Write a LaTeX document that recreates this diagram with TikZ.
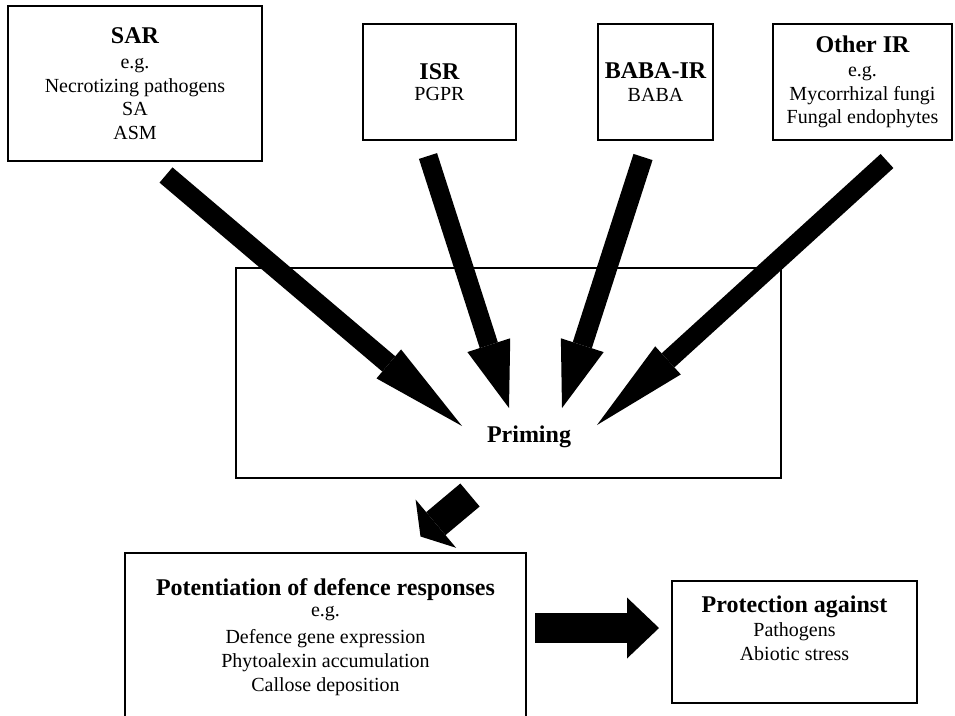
\documentclass[tikz,border=0pt]{standalone}
\usepackage{fontspec}
\setmainfont{Liberation Serif}
\usetikzlibrary{arrows.meta,positioning}
\newcommand{\hd}[1]{{\fontsize{24}{26}\selectfont\bfseries #1}}

\begin{document}
\begin{tikzpicture}[x=1pt,y=-1pt,
    box/.style={draw,line width=1.5pt,inner sep=0pt,align=center,
      font=\fontsize{20}{23.5}\selectfont},
    lbl/.style={inner sep=0pt,align=center,font=\fontsize{20}{24}\selectfont},
    fat/.style n args={3}{line width=#1,
      -{Triangle[width=#2,length=#3,line width=0pt 0 0]}},
  ]
  \useasboundingbox (0,0) rectangle (955,715);
  \clip (0,0) rectangle (955,715);

  % inducers
  \node[box,minimum width=254pt,minimum height=155pt] (sar) at (135,83.5)
    {\hd{SAR}\\[1.5pt]e.g.\\Necrotizing pathogens\\SA\\ASM};
  \node[box,minimum width=153pt,minimum height=116pt] (isr) at (439.5,82)
    {\hd{ISR}\\[-2.5pt]PGPR};
  \node[box,minimum width=115pt,minimum height=116pt] (baba) at (655.5,82)
    {\hd{BABA-IR}\\[-1pt]BABA};
  \node[box,minimum width=179pt,minimum height=116pt] (other) at (862.5,82)
    {\hd{Other IR}\\[1pt]e.g.\\Mycorrhizal fungi\\Fungal endophytes};

  % priming
  \node[box,minimum width=545pt,minimum height=210pt] (prim) at (508.5,373) {};
  \node[lbl,anchor=base] (primtxt) at (529,442.7) {\hd{Priming}};

  % outcome
  \node[box,minimum width=401pt,minimum height=168pt,
    font=\fontsize{20}{24}\selectfont] (pot) at (325.5,637)
    {\hd{Potentiation of defence responses}\\[-3.5pt]e.g.\\[3pt]Defence gene expression\\Phytoalexin accumulation\\Callose deposition};
  \node[box,minimum width=245pt,minimum height=122pt] (prot) at (794.5,642) {};
  \node[lbl,anchor=north] (prottxt) at (794.5,595.7)
    {\hd{Protection against}\\Pathogens\\Abiotic stress};

  % arrow ends
  \coordinate (sar-tail) at (166,175);
  \coordinate (sar-tip) at (462,426);
  \coordinate (isr-tail) at (428,156);
  \coordinate (isr-tip) at (509,408);
  \coordinate (baba-tail) at (643,157);
  \coordinate (baba-tip) at (562,408);
  \coordinate (other-tail) at (887,161);
  \coordinate (other-tip) at (597,425);
  \coordinate (prim-tail) at (470,495);
  \coordinate (prim-tip) at (420.5,536.5);
  \coordinate (pot-tail) at (535,628);
  \coordinate (pot-tip) at (659,628);

  \draw[fat={20pt}{38pt}{96pt}] (sar-tail) -- (sar-tip);
  \draw[fat={19pt}{45pt}{66pt}] (isr-tail) -- (isr-tip);
  \draw[fat={20pt}{45pt}{66pt}] (baba-tail) -- (baba-tip);
  \draw[fat={19pt}{38pt}{96pt}] (other-tail) -- (other-tip);
  \draw[fat={30pt}{63pt}{20pt}] (prim-tail) -- (prim-tip);
  \draw[fat={30pt}{61pt}{32pt}] (pot-tail) -- (pot-tip);
\end{tikzpicture}
\end{document}
